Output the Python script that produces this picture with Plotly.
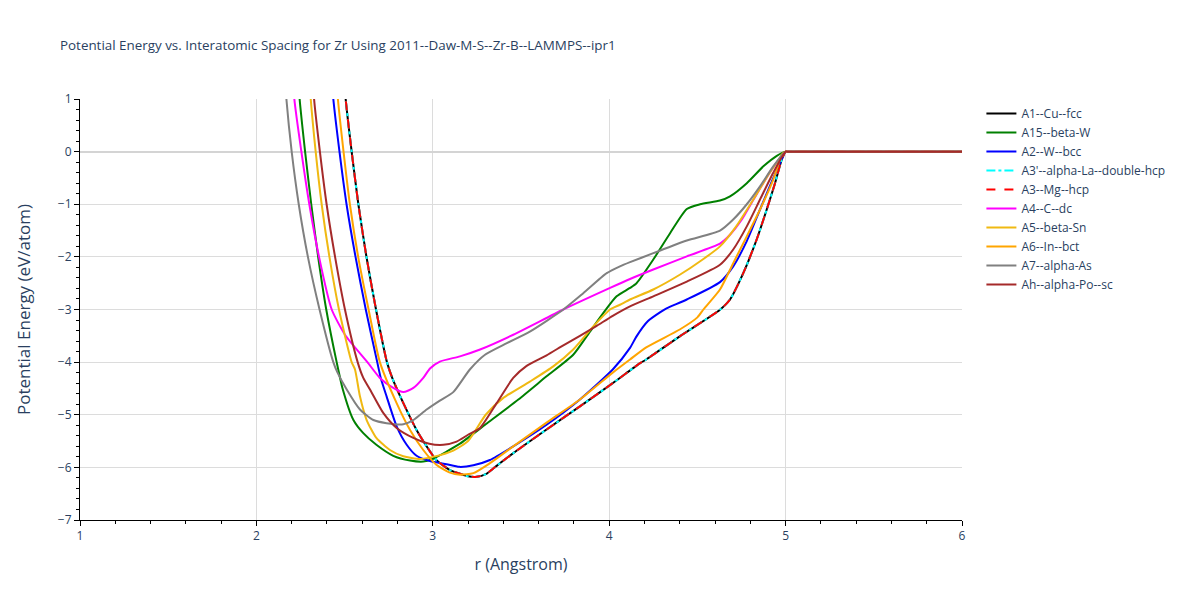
import plotly.graph_objects as go

# ---- data (r in Angstrom, E in eV/atom) ----
r_fcc = [2.46, 2.506, 2.540, 2.578, 2.624, 2.678, 2.740, 2.77, 2.833, 2.908, 2.965, 3.02, 3.097, 3.154, 3.2, 3.25, 3.3, 3.343, 3.456, 3.645, 3.834, 4.02, 4.175, 4.21, 4.40, 4.63, 4.685, 4.76, 4.836, 4.893, 4.94, 4.978, 5.0, 5.01, 5.5, 6.0]
e_fcc = [3.0, 1.0, 0.0, -1.0, -2.0, -3.0, -4.0, -4.3, -4.78, -5.29, -5.6, -5.86, -6.05, -6.12, -6.17, -6.18, -6.13, -6.02, -5.73, -5.28, -4.84, -4.4, -4.02, -3.95, -3.51, -3.0, -2.81, -2.31, -1.67, -1.10, -0.6, -0.15, 0.0, 0.0, 0.0, 0.0]

r_hcp = list(r_fcc)
e_hcp = list(e_fcc)
r_dhcp = list(r_fcc)
e_dhcp = list(e_fcc)

r_a15 = [2.205, 2.245, 2.276, 2.311, 2.350, 2.396, 2.455, 2.49, 2.55, 2.606, 2.68, 2.776, 2.871, 2.946, 3.0, 3.078, 3.154, 3.3, 3.485, 3.645, 3.796, 3.891, 3.966, 4.042, 4.118, 4.155, 4.25, 4.345, 4.44, 4.515, 4.628, 4.685, 4.78, 4.874, 4.95, 5.0, 5.01, 5.5, 6.0]
e_a15 = [3.0, 1.0, 0.0, -1.0, -2.0, -3.0, -4.0, -4.52, -5.1, -5.35, -5.57, -5.78, -5.87, -5.89, -5.84, -5.70, -5.55, -5.18, -4.71, -4.27, -3.86, -3.42, -3.07, -2.75, -2.59, -2.50, -2.05, -1.55, -1.09, -1.0, -0.93, -0.85, -0.6, -0.28, -0.08, 0.0, 0.0, 0.0, 0.0]

r_bcc = [2.39, 2.436, 2.471, 2.511, 2.562, 2.620, 2.685, 2.705, 2.738, 2.795, 2.852, 2.908, 2.984, 3.078, 3.15, 3.23, 3.324, 3.456, 3.645, 3.834, 4.02, 4.118, 4.155, 4.22, 4.29, 4.325, 4.44, 4.628, 4.703, 4.78, 4.855, 4.91, 4.968, 5.0, 5.01, 5.5, 6.0]
e_bcc = [3.0, 1.0, 0.0, -1.0, -2.0, -3.0, -4.0, -4.3, -4.65, -5.22, -5.57, -5.78, -5.88, -5.94, -5.99, -5.96, -5.86, -5.6, -5.19, -4.71, -4.14, -3.73, -3.51, -3.22, -3.05, -2.98, -2.81, -2.48, -2.18, -1.70, -1.10, -0.66, -0.22, 0.0, 0.0, 0.0, 0.0]

r_dc = [2.175, 2.215, 2.255, 2.300, 2.355, 2.427, 2.506, 2.629, 2.70, 2.776, 2.833, 2.89, 2.946, 2.984, 3.04, 3.154, 3.268, 3.456, 3.74, 4.005, 4.118, 4.25, 4.44, 4.628, 4.685, 4.75, 4.82, 4.91, 5.0, 5.01, 5.5, 6.0]
e_dc = [3.0, 1.0, 0.0, -1.0, -2.0, -3.0, -3.5, -4.0, -4.3, -4.49, -4.57, -4.49, -4.30, -4.12, -3.99, -3.89, -3.76, -3.48, -3.0, -2.59, -2.42, -2.24, -1.99, -1.75, -1.58, -1.3, -0.9, -0.4, 0.0, 0.0, 0.0, 0.0]

r_sn = [2.27, 2.308, 2.336, 2.370, 2.414, 2.468, 2.54, 2.559, 2.587, 2.625, 2.68, 2.757, 2.833, 2.927, 3.0, 3.116, 3.2, 3.3, 3.40, 3.55, 3.683, 3.796, 3.91, 4.005, 4.061, 4.118, 4.25, 4.40, 4.53, 4.628, 4.72, 4.817, 4.91, 4.99, 5.0, 5.01, 5.5, 6.0]
e_sn = [3.0, 1.0, 0.0, -1.0, -2.0, -3.0, -4.0, -4.14, -4.65, -5.1, -5.44, -5.67, -5.79, -5.84, -5.8, -5.68, -5.5, -5.0, -4.68, -4.37, -4.08, -3.76, -3.32, -3.0, -2.91, -2.81, -2.62, -2.34, -2.05, -1.80, -1.42, -0.91, -0.40, -0.02, 0.0, 0.0, 0.0, 0.0]

r_bct = [2.42, 2.462, 2.494, 2.530, 2.577, 2.636, 2.70, 2.795, 2.871, 2.946, 3.02, 3.097, 3.154, 3.23, 3.324, 3.456, 3.645, 3.834, 4.02, 4.118, 4.21, 4.40, 4.50, 4.534, 4.628, 4.703, 4.78, 4.855, 4.93, 4.98, 5.0, 5.01, 5.5, 6.0]
e_bct = [3.0, 1.0, 0.0, -1.0, -2.0, -3.0, -4.0, -4.78, -5.29, -5.67, -5.95, -6.10, -6.14, -6.11, -5.92, -5.6, -5.15, -4.71, -4.2, -3.95, -3.72, -3.38, -3.15, -3.0, -2.62, -2.12, -1.61, -1.1, -0.53, -0.05, 0.0, 0.0, 0.0, 0.0]

r_as = [2.13, 2.170, 2.200, 2.240, 2.292, 2.358, 2.436, 2.46, 2.512, 2.587, 2.663, 2.738, 2.833, 2.89, 2.965, 3.04, 3.116, 3.21, 3.296, 3.42, 3.55, 3.74, 3.853, 3.986, 4.061, 4.118, 4.25, 4.44, 4.628, 4.703, 4.78, 4.855, 4.93, 5.0, 5.01, 5.5, 6.0]
e_as = [3.0, 1.0, 0.0, -1.0, -2.0, -3.0, -4.0, -4.2, -4.52, -4.9, -5.1, -5.16, -5.18, -5.1, -4.9, -4.73, -4.57, -4.14, -3.86, -3.64, -3.42, -3.0, -2.69, -2.31, -2.18, -2.1, -1.93, -1.69, -1.5, -1.29, -1.0, -0.66, -0.28, 0.0, 0.0, 0.0, 0.0]

r_sc = [2.29, 2.327, 2.36, 2.398, 2.446, 2.502, 2.574, 2.606, 2.644, 2.72, 2.795, 2.89, 2.98, 3.06, 3.135, 3.20, 3.268, 3.362, 3.456, 3.532, 3.645, 3.74, 3.834, 3.929, 4.02, 4.118, 4.25, 4.44, 4.628, 4.703, 4.78, 4.855, 4.93, 5.0, 5.01, 5.5, 6.0]
e_sc = [3.0, 1.0, 0.0, -1.0, -2.0, -3.0, -4.0, -4.3, -4.52, -4.97, -5.25, -5.44, -5.55, -5.57, -5.51, -5.38, -5.25, -4.78, -4.30, -4.07, -3.87, -3.68, -3.50, -3.31, -3.12, -2.94, -2.75, -2.47, -2.15, -1.86, -1.42, -0.91, -0.4, 0.0, 0.0, 0.0, 0.0]

names = ["A1--Cu--fcc", "A15--beta-W", "A2--W--bcc", "A3'--alpha-La--double-hcp", "A3--Mg--hcp",
         "A4--C--dc", "A5--beta-Sn", "A6--In--bct", "A7--alpha-As", "Ah--alpha-Po--sc"]
xs = [r_fcc, r_a15, r_bcc, r_dhcp, r_hcp, r_dc, r_sn, r_bct, r_as, r_sc]
ys = [e_fcc, e_a15, e_bcc, e_dhcp, e_hcp, e_dc, e_sn, e_bct, e_as, e_sc]
colors = ["black", "green", "blue", "cyan", "red", "magenta", "#F0B912", "orange", "gray", "brown"]
dashes = ["solid", "solid", "solid", "dashdot", "dash", "solid", "solid", "solid", "solid", "solid"]

fig = go.Figure()
for n, x, y, c, d in zip(names, xs, ys, colors, dashes):
    fig.add_trace(go.Scatter(x=x, y=y, mode="lines", name=n,
                             line=dict(color=c, width=2, dash=d, shape="spline", smoothing=0.6)))

txt = "#2a3f5f"
axis_common = dict(showline=True, linecolor="black", linewidth=1, ticks="outside",
                   tickcolor="black", ticklen=5, showgrid=True, gridcolor="#dcdcdc",
                   gridwidth=1, tickfont=dict(size=12, color=txt),
                   minor=dict(ticks="outside", ticklen=3, tickcolor="black", dtick=0.2, showgrid=False))

fig.update_layout(
    width=1200, height=600,
    paper_bgcolor="white", plot_bgcolor="white",
    title=dict(text="Potential Energy vs. Interatomic Spacing for Zr Using 2011--Daw-M-S--Zr-B--LAMMPS--ipr1",
               x=52 / 1200, xanchor="left", y=1 - 37 / 600, yanchor="middle",
               font=dict(size=13.4, color=txt)),
    margin=dict(l=72, r=246, t=91, b=88),
    legend=dict(x=1.022, y=1.0, xanchor="left", yanchor="top",
                font=dict(size=12, color=txt), tracegroupgap=0),
    xaxis=dict(range=[1, 6], dtick=1, title=dict(text="r (Angstrom)", font=dict(size=16, color=txt)),
               zeroline=False, **axis_common),
    yaxis=dict(range=[-7, 1], dtick=1, automargin=True,
               title=dict(text="Potential Energy (eV/atom)", font=dict(size=17, color=txt), standoff=22),
               zeroline=True, zerolinecolor="#d4d4d4", zerolinewidth=2, **axis_common),
)

fig.write_html("out.html")
